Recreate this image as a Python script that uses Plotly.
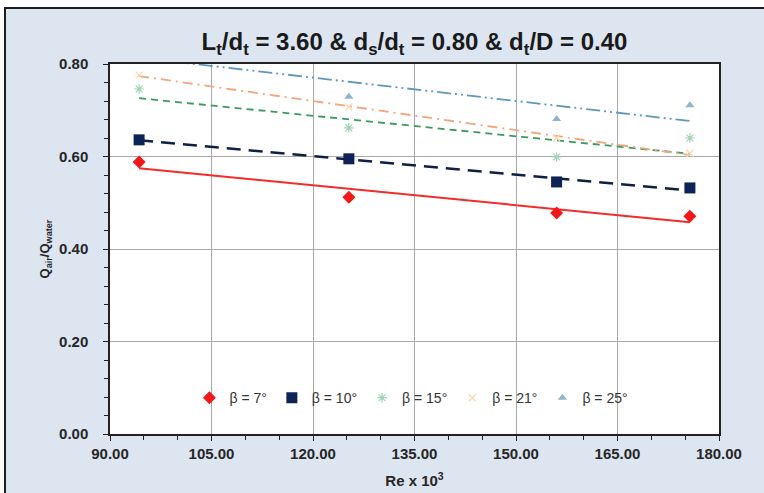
import numpy as np
import plotly.graph_objects as go

re_x = [94.3, 125.3, 156.0, 175.7]
beta_labels = ["β = 7°", "β = 10°", "β = 15°", "β = 21°", "β = 25°"]
q_b7 = [0.588, 0.512, 0.478, 0.471]
q_b10 = [0.636, 0.595, 0.545, 0.532]
q_b15 = [0.746, 0.662, 0.599, 0.640]
q_b21 = [0.776, 0.707, 0.640, 0.607]
q_b25 = [0.841, 0.729, 0.681, 0.711]
x_ticks = [90, 105, 120, 135, 150, 165, 180]
y_ticks = [0.0, 0.2, 0.4, 0.6, 0.8]

series = [q_b7, q_b10, q_b15, q_b21, q_b25]
marker_styles = [
    dict(symbol="diamond", color="#f01818", size=10),
    dict(symbol="square", color="#0d2257", size=11),
    dict(symbol="asterisk-open", color="#9fd2b2", size=8, line=dict(width=1.2, color="#9fd2b2")),
    dict(symbol="x-thin-open", color="#f6d8b0", size=7, line=dict(width=1.2, color="#f6d8b0")),
    dict(symbol="triangle-up", color="#8fb4cc", size=8),
]
trend_styles = [
    dict(color="#f52a2a", width=2, dash="solid"),
    dict(color="#0f1f45", width=2.5, dash="14px,8px"),
    dict(color="#3a9a62", width=1.8, dash="7px,5px"),
    dict(color="#f4a57a", width=1.8, dash="10px,5px,2px,5px"),
    dict(color="#5f97bd", width=1.8, dash="14px,4px,2px,4px,2px,4px"),
]

fig = go.Figure()
xs = np.array(re_x)
xfit = np.array([xs.min(), xs.max()])
for ys, ts in zip(series, trend_styles):
    m, b = np.polyfit(xs, np.array(ys), 1)
    fig.add_trace(go.Scatter(x=xfit, y=m * xfit + b, mode="lines", line=ts,
                             showlegend=False, hoverinfo="skip"))
for ys, ms, name in zip(series, marker_styles, beta_labels):
    fig.add_trace(go.Scatter(x=re_x, y=ys, mode="markers", marker=ms, name=name))

L, R, T, B = 110, 45, 64, 59
W, H = 764, 493
pw, ph = W - L - R, H - T - B
def px_x(p):
    return (p - L) / pw
def px_y(p):
    return (H - B - p) / ph

fig.add_shape(type="rect", xref="paper", yref="paper",
              x0=px_x(5), x1=px_x(W + 20), y0=px_y(H + 20), y1=px_y(8),
              fillcolor="#dde5f1", line=dict(color="#1e1e1e", width=2), layer="below")
fig.add_shape(type="rect", xref="paper", yref="paper", x0=0, x1=1, y0=0, y1=1,
              fillcolor="white", line=dict(width=0), layer="below")

FONT = "Liberation Sans, Arial"
tickfont = dict(family=FONT, size=15, color="#262626", weight="bold")
fig.update_layout(
    width=W, height=H,
    margin=dict(l=L, r=R, t=T, b=B, autoexpand=False),
    paper_bgcolor="white", plot_bgcolor="rgba(0,0,0,0)",
    title=dict(text="L<sub>t</sub>/d<sub>t</sub> = 3.60 &amp; d<sub>s</sub>/d<sub>t</sub> = 0.80 &amp; d<sub>t</sub>/D = 0.40",
               x=0.5, xref="paper", xanchor="center", y=1 - 42 / H, yref="container", yanchor="middle",
               font=dict(family=FONT, size=24, color="#1a1a1a", weight="bold")),
    legend=dict(orientation="h", x=0.495, xanchor="center", y=0.097, yanchor="middle",
                bgcolor="rgba(0,0,0,0)", font=dict(family=FONT, size=14, color="#333"),
                itemwidth=30, tracegroupgap=0),
    xaxis=dict(range=[90, 180], tickvals=x_ticks, tickformat=".2f", showgrid=True,
               gridcolor="#a9a9a9", gridwidth=1, zeroline=False,
               showline=True, linecolor="#222", linewidth=1.5, mirror=True,
               ticks="outside", ticklen=5, tickcolor="#222",
               minor=dict(dtick=5, ticks="outside", ticklen=4, tickcolor="#222", showgrid=False),
               tickfont=tickfont,
               title=dict(text="Re x 10<sup>3</sup>", standoff=15,
                          font=dict(family=FONT, size=15, color="#262626", weight="bold"))),
    yaxis=dict(range=[0, 0.8], tickvals=y_ticks, tickformat=".2f", showgrid=True,
               gridcolor="#a9a9a9", gridwidth=1, zeroline=False,
               showline=True, linecolor="#222", linewidth=1.5, mirror=True,
               ticks="outside", ticklen=5, tickcolor="#222", ticklabelstandoff=12,
               minor=dict(dtick=0.04, ticks="outside", ticklen=4, tickcolor="#222", showgrid=False),
               tickfont=tickfont,
               title=dict(text="Q<sub>air</sub>/Q<sub>water</sub>", standoff=6,
                          font=dict(family=FONT, size=13, color="#262626", weight="bold"))),
)

fig.write_html("out.html", config={"displayModeBar": False},
               post_script="document.body.style.margin='0px';")
